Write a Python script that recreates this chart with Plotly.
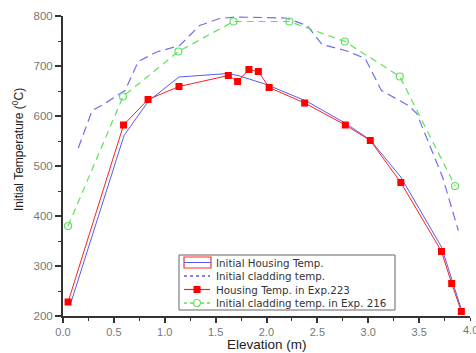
import plotly.graph_objects as go

# Housing Temp. in Exp. 223 (red squares)
exp223_x = [0.05, 0.595, 0.836, 1.14, 1.625, 1.716, 1.827, 1.92, 2.026, 2.375, 2.775, 3.02, 3.32, 3.72, 3.82, 3.915]
exp223_y = [228, 582, 633, 659, 681, 669, 693, 689, 657, 626, 582, 551, 467, 329, 265, 209]

# Initial Housing Temp. (blue solid)
housing_x = [0.08, 0.6, 0.84, 1.14, 1.62, 1.72, 2.0, 2.4, 2.78, 3.02, 3.32, 3.72, 3.92]
housing_y = [228, 561, 630, 678, 685, 681, 663, 629, 585, 552, 478, 338, 210]

# Initial cladding temp. (blue dashed)
clad_x = [0.15, 0.287, 0.395, 0.61, 0.74, 0.92, 1.147, 1.343, 1.54, 1.70, 2.19, 2.40, 2.546, 2.775, 2.97, 3.13, 3.395, 3.477, 3.73, 3.885]
clad_y = [536, 611, 623, 651, 709, 728, 741, 781, 795, 798, 796, 781, 743, 731, 715, 651, 621, 605, 478, 371]

# Initial cladding temp. in Exp. 216 (green circles)
exp216_x = [0.05, 0.59, 1.134, 1.676, 2.225, 2.77, 3.31, 3.853]
exp216_y = [380, 639, 729, 789, 789, 749, 679, 460]

x_tickvals = [0, 0.5, 1, 1.5, 2, 2.5, 3, 3.5, 4]
x_ticktext = ["0.0", "0.5", "1.0", "1.5", "2.0", "2.5", "3.0", "3.5", "4.0"]

legend_labels = ["Initial Housing Temp.", "Initial cladding temp.",
                 "Housing Temp. in Exp.223", "Initial cladding temp. in Exp. 216"]

BLUE = "#5a5af0"
BLUE_D = "#6f6ff0"
RED = "#ff2020"
GREEN = "#5ee05e"

W, H = 476, 353
ML, MR, MT, MB = 63, 6, 16, 37
PW, PH = W - ML - MR, H - MT - MB


def px(x):
    return (x - ML) / PW


def py(y):
    return (H - MB - y) / PH


fig = go.Figure()
fig.add_trace(go.Scatter(x=housing_x, y=housing_y, mode="lines", name=legend_labels[0],
                         line=dict(color=BLUE, width=1)))
fig.add_trace(go.Scatter(x=clad_x, y=clad_y, mode="lines", name=legend_labels[1],
                         line=dict(color=BLUE_D, width=1.2, dash="9px,5px")))
fig.add_trace(go.Scatter(x=exp223_x, y=exp223_y, mode="lines+markers", name=legend_labels[2],
                         line=dict(color=RED, width=1),
                         marker=dict(symbol="square", size=7, color="#ff0000")))
fig.add_trace(go.Scatter(x=exp216_x, y=exp216_y, mode="lines+markers", name=legend_labels[3],
                         line=dict(color=GREEN, width=1.2, dash="7px,5px"),
                         marker=dict(symbol="circle-open", size=7, color=GREEN, line=dict(width=1.2))))

# ---- hand-drawn legend (compact, like the reference) ----
shapes = []
annotations = []
box_l, box_r, box_t, box_b = 179, 395, 255, 310
shapes.append(dict(type="rect", xref="paper", yref="paper", x0=px(box_l), x1=px(box_r),
                   y0=py(box_b), y1=py(box_t), line=dict(color="#666", width=1),
                   fillcolor="white", layer="above"))
rows = [262.5, 276, 289.5, 303]
sx0, sx1, sxc = 184, 210, 197
# row 1: red box with blue line
shapes.append(dict(type="rect", xref="paper", yref="paper", x0=px(sx0), x1=px(sx1 + 1),
                   y0=py(rows[0] + 5.5), y1=py(rows[0] - 5.5), line=dict(color="#ff3030", width=1.2),
                   layer="above"))
shapes.append(dict(type="line", xref="paper", yref="paper", x0=px(sx0), x1=px(sx1 + 1),
                   y0=py(rows[0]), y1=py(rows[0]), line=dict(color=BLUE, width=1), layer="above"))
# row 2: blue dotted
shapes.append(dict(type="line", xref="paper", yref="paper", x0=px(sx0), x1=px(sx1),
                   y0=py(rows[1]), y1=py(rows[1]), line=dict(color=BLUE, width=1.5, dash="dot"),
                   layer="above"))
# row 3: red line + square
shapes.append(dict(type="line", xref="paper", yref="paper", x0=px(sx0), x1=px(sx1),
                   y0=py(rows[2]), y1=py(rows[2]), line=dict(color=RED, width=1.2), layer="above"))
shapes.append(dict(type="rect", xref="paper", yref="paper", x0=px(sxc - 3.5), x1=px(sxc + 3.5),
                   y0=py(rows[2] + 3.5), y1=py(rows[2] - 3.5), line=dict(width=0),
                   fillcolor="#ff0000", layer="above"))
# row 4: green dotted + open circle
shapes.append(dict(type="line", xref="paper", yref="paper", x0=px(sx0), x1=px(sxc - 4),
                   y0=py(rows[3]), y1=py(rows[3]), line=dict(color=GREEN, width=1.3, dash="dot"),
                   layer="above"))
shapes.append(dict(type="line", xref="paper", yref="paper", x0=px(sxc + 4), x1=px(sx1),
                   y0=py(rows[3]), y1=py(rows[3]), line=dict(color=GREEN, width=1.3, dash="dot"),
                   layer="above"))
shapes.append(dict(type="circle", xref="paper", yref="paper", x0=px(sxc - 3.5), x1=px(sxc + 3.5),
                   y0=py(rows[3] + 3.5), y1=py(rows[3] - 3.5), line=dict(color=GREEN, width=1.2),
                   fillcolor="white", layer="above"))
for lab, r in zip(legend_labels, rows):
    annotations.append(dict(text=lab, xref="paper", yref="paper", x=px(214), y=py(r),
                            xanchor="left", yanchor="middle", showarrow=False,
                            font=dict(family="DejaVu Sans, sans-serif", size=10.3, color="#333")))

# last x tick label, drawn as text so it can run off the edge like in the reference
annotations.append(dict(text=x_ticktext[-1], xref="x", yref="paper", x=x_tickvals[-1], y=py(329.5),
                        xanchor="center", yanchor="middle", showarrow=False,
                        font=dict(family="Arial, Liberation Sans, sans-serif", size=11, color="#777")))

# axis titles
annotations.append(dict(text="Elevation (m)", xref="paper", yref="paper", x=px(266.5), y=py(344.5),
                        xanchor="center", yanchor="middle", showarrow=False,
                        font=dict(family="Arial, Liberation Sans, sans-serif", size=13.5, color="#222")))
annotations.append(dict(text="Initial Temperature (<sup>0</sup>C)", xref="paper", yref="paper",
                        x=px(18), y=py(150), textangle=-90, xanchor="center", yanchor="middle",
                        showarrow=False,
                        font=dict(family="Arial, Liberation Sans, sans-serif", size=12, color="#222")))

fig.update_layout(
    width=W, height=H,
    margin=dict(l=ML, r=MR, t=MT, b=MB),
    plot_bgcolor="white", paper_bgcolor="white",
    font=dict(family="Arial, Liberation Sans, sans-serif", color="#333"),
    showlegend=False,
    shapes=shapes, annotations=annotations,
    xaxis=dict(range=[0, 4], tickvals=x_tickvals[:-1], ticktext=x_ticktext[:-1],
               showline=True, linecolor="#333", linewidth=2, ticks="outside", ticklen=5,
               tickwidth=1.5, tickcolor="#333", ticklabelstandoff=0,
               minor=dict(tickvals=[0.25, 0.75, 1.25, 1.75, 2.25, 2.75, 3.25, 3.75, 4.0],
                          ticks="outside", ticklen=3, tickcolor="#333", tickwidth=1),
               showgrid=False, zeroline=False,
               tickfont=dict(size=11, color="#777")),
    yaxis=dict(range=[200, 800], dtick=100,
               showline=True, linecolor="#333", linewidth=2, ticks="outside", ticklen=6,
               tickwidth=1.5, tickcolor="#333",
               minor=dict(dtick=50, ticks="outside", ticklen=3, tickcolor="#333", tickwidth=1),
               showgrid=False, zeroline=False,
               tickfont=dict(size=11.5, color="#777")),
)

fig.write_html("out.html", config={"displayModeBar": False},
               post_script="document.body.style.margin='0';")
